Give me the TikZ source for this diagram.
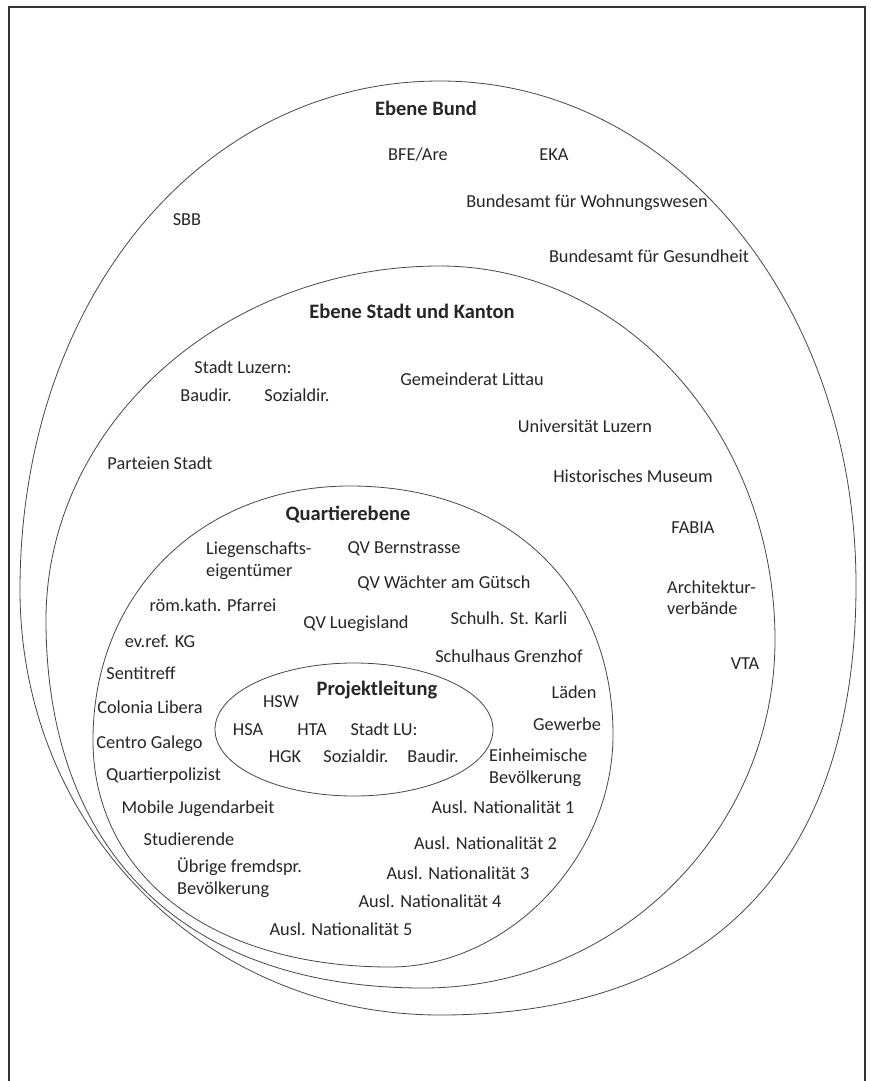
\documentclass[tikz,border=0pt]{standalone}
\usepackage{fontspec}
\setmainfont{Carlito}
\begin{document}
\begin{tikzpicture}[x=1pt,y=-1pt,
  lbl/.style={font=\fontsize{18.3}{21.5}\selectfont, text=black!85, inner sep=0pt, text height=12.8pt, text depth=0pt},
  hdr/.style={lbl, font=\fontsize{20.5}{24}\selectfont\bfseries, text height=14.3pt},
  two/.style={lbl, align=left, anchor=west},
  ring/.style={draw=black!72, line width=0.8pt},
  frame/.style={draw=black!80, line width=1.6pt}]
\useasboundingbox (0,0) rectangle (870,1081);
\fill[white] (0,0) rectangle (870,1081);
% frame (open at the bottom)
\coordinate (fbl) at (9,1081);
\coordinate (ftl) at (9,7);
\coordinate (ftr) at (865,7);
\coordinate (fbr) at (865,1081);
\draw[frame] (fbl) -- (ftl) -- (ftr) -- (fbr);

% Ebene Bund
\coordinate (bT) at (440,81);
\coordinate (bR) at (856,585);
\coordinate (bB) at (440,1015);
\coordinate (bL) at (20,590);
\draw[ring] (bT) .. controls (673,81) and (856,303) .. (bR)
  .. controls (856,865) and (710,1015) .. (bB)
  .. controls (205,1015) and (20,828) .. (bL)
  .. controls (20,300) and (201,81) .. (bT) -- cycle;

% Ebene Stadt und Kanton
\coordinate (sT) at (440,266);
\coordinate (sR) at (775,640);
\coordinate (sB) at (423,988);
\coordinate (sL) at (46,620);
\draw[ring] (sT) .. controls (625,266) and (775,434) .. (sR)
  .. controls (775,832) and (617,988) .. (sB)
  .. controls (185,988) and (46,852) .. (sL)
  .. controls (46,425) and (223,266) .. (sT) -- cycle;

% Quartierebene
\coordinate (qT) at (350,486);
\coordinate (qR) at (613,735);
\coordinate (qB) at (390,967);
\coordinate (qL) at (93,740);
\draw[ring] (qT) .. controls (508,486) and (613,586) .. (qR)
  .. controls (613,858) and (508,967) .. (qB)
  .. controls (212,967) and (93,876) .. (qL)
  .. controls (93,593) and (201,486) .. (qT) -- cycle;

% Projektleitung
\coordinate (pC) at (354,729.5);
\draw[ring] (pC) ellipse [x radius=139, y radius=66.5];

% --- Ebene Bund
\node[hdr] (hbund) at (426,108) {Ebene Bund};
\node[lbl] (bfe) at (418,154) {BFE/Are};
\node[lbl] (eka) at (554,154) {EKA};
\node[lbl] (bwo) at (587,201) {Bundesamt für Wohnungswesen};
\node[lbl] (sbb) at (187,219) {SBB};
\node[lbl] (bag) at (649,256) {Bundesamt für Gesundheit};

% --- Ebene Stadt und Kanton
\node[hdr] (hstadt) at (412,311) {Ebene Stadt und Kanton};
\node[lbl] (sluz) at (243,367) {Stadt Luzern:};
\node[lbl] (bau1) at (206,395) {Baudir.};
\node[lbl] (soz1) at (297,395) {Sozialdir.};
\node[lbl] (gem) at (472,379) {Gemeinderat Littau};
\node[lbl] (uni) at (585,426) {Universität Luzern};
\node[lbl] (part) at (160,463) {Parteien Stadt};
\node[lbl] (hist) at (633,476) {Historisches Museum};
\node[lbl] (fabia) at (693,527) {FABIA};
\node[two] (arch) at (667,608.5) {Architektur-\\verbände};
\node[lbl] (vta) at (745,663) {VTA};

% --- Quartierebene
\node[hdr] (hquart) at (348,513) {Quartierebene};
\node[two] (lieg) at (206,570) {Liegenschafts-\\eigentümer};
\node[lbl] (qvb) at (404,547) {QV Bernstrasse};
\node[lbl] (qvw) at (444,582) {QV Wächter am Gütsch};
\node[lbl] (rkp) at (213,605) {röm.kath. Pfarrei};
\node[lbl] (qvl) at (356,622) {QV Luegisland};
\node[lbl] (skarli) at (509,618) {Schulh. St. Karli};
\node[lbl] (evkg) at (160,641) {ev.ref. KG};
\node[lbl] (sgrenz) at (509,656) {Schulhaus Grenzhof};
\node[lbl] (senti) at (141,673) {Sentitreff};
\node[lbl] (colonia) at (150,707) {Colonia Libera};
\node[lbl] (centro) at (149.5,742) {Centro Galego};
\node[lbl] (qpol) at (163.5,774) {Quartierpolizist};
\node[lbl] (mobile) at (198,807) {Mobile Jugendarbeit};
\node[lbl] (stud) at (189,839) {Studierende};
\node[two] (uebrige) at (177,888) {Übrige fremdspr.\\Bevölkerung};
\node[lbl] (laeden) at (574,692) {Läden};
\node[lbl] (gew) at (567,724) {Gewerbe};
\node[two] (einh) at (489,777) {Einheimische\\Bevölkerung};
\node[lbl] (aus1) at (503,807) {Ausl. Nationalität 1};
\node[lbl] (aus2) at (485.5,843) {Ausl. Nationalität 2};
\node[lbl] (aus3) at (458,873) {Ausl. Nationalität 3};
\node[lbl] (aus4) at (430,901) {Ausl. Nationalität 4};
\node[lbl] (aus5) at (341,929) {Ausl. Nationalität 5};

% --- Projektleitung
\node[hdr] (hproj) at (377,688) {Projektleitung};
\node[lbl] (hsw) at (281,701) {HSW};
\node[lbl] (hsa) at (248,729) {HSA};
\node[lbl] (hta) at (312,729) {HTA};
\node[lbl] (slu) at (384,729) {Stadt LU:};
\node[lbl] (hgk) at (285,756) {HGK};
\node[lbl] (soz2) at (356,756) {Sozialdir.};
\node[lbl] (bau2) at (433,756) {Baudir.};
\end{tikzpicture}
\end{document}
